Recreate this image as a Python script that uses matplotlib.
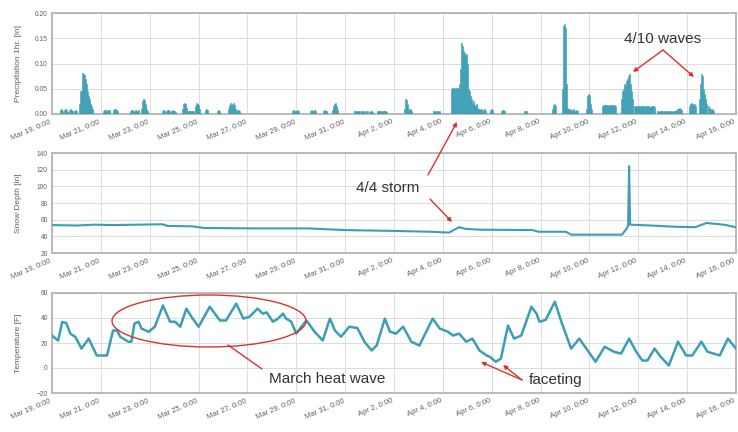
import matplotlib
matplotlib.use("Agg")
import matplotlib.pyplot as plt
from matplotlib.patches import Ellipse
from matplotlib.ticker import FuncFormatter, FormatStrFormatter
import matplotlib.dates as mdates
import pandas as pd

plt.rcParams['font.family'] = ['Liberation Sans', 'DejaVu Sans']

YEAR = 2014
t_start = pd.Timestamp(f"{YEAR}-03-19 00:00")
t_end = pd.Timestamp(f"{YEAR}-04-16 00:00")

# Hourly precipitation [in]: each run starts at the given time, one value per hour
precip_starts = [
    "03-19 08:00", "03-20 03:00", "03-21 02:00", "03-21 12:00", "03-22 05:00",
    "03-22 15:00", "03-23 12:00", "03-24 08:00", "03-24 20:00", "03-25 06:00",
    "03-25 18:00", "03-26 05:00", "03-28 20:00", "03-29 13:00", "03-30 02:00",
    "03-30 11:00", "03-31 09:00", "04-01 07:00", "04-02 10:00", "04-03 14:00",
    "04-04 08:00", "04-05 22:00", "04-06 09:00", "04-07 08:00", "04-08 11:00",
    "04-08 21:00", "04-09 21:00", "04-10 12:00", "04-11 07:00", "04-11 20:00",
    "04-12 18:00", "04-13 13:00", "04-14 02:00", "04-14 12:00",
]
precip_hourly = [
    [0.008, 0.01, 0.006, 0.0, 0.008, 0.01, 0.008, 0.004, 0.0, 0.008, 0.01, 0.008, 0.006, 0.0, 0.006, 0.008, 0.005],
    [0.02, 0.045, 0.082, 0.08, 0.078, 0.07, 0.06, 0.045, 0.035, 0.03, 0.02, 0.015, 0.01],
    [0.006, 0.008, 0.008, 0.004, 0.008, 0.006, 0.008],
    [0.008, 0.01, 0.01, 0.008, 0.006],
    [0.006, 0.008, 0.008, 0.004, 0.006, 0.008, 0.006, 0.008],
    [0.01, 0.025, 0.03, 0.028, 0.02, 0.01, 0.005],
    [0.005, 0.008, 0.006, 0.0, 0.005, 0.008, 0.008, 0.006, 0.0, 0.006, 0.008, 0.005, 0.006, 0.004],
    [0.01, 0.02, 0.022, 0.02, 0.012, 0.006, 0.006, 0.005, 0.006, 0.006, 0.005, 0.006],
    [0.015, 0.022, 0.02, 0.018, 0.01],
    [0.008, 0.01, 0.008],
    [0.006, 0.008, 0.006],
    [0.01, 0.018, 0.022, 0.015, 0.02, 0.022, 0.018, 0.01, 0.006, 0.008, 0.008, 0.006],
    [0.006, 0.008, 0.006, 0.005, 0.006, 0.008, 0.005],
    [0.006, 0.008, 0.006, 0.006, 0.008, 0.005],
    [0.006, 0.008, 0.006, 0.005],
    [0.008, 0.015, 0.02, 0.022, 0.015, 0.008],
    [0.005, 0.006, 0.005, 0.004, 0.006, 0.005, 0.0, 0.005, 0.006, 0.004, 0.005, 0.006, 0.005, 0.0, 0.004, 0.006, 0.005, 0.004],
    [0.005, 0.006, 0.005, 0.006, 0.004, 0.005, 0.006, 0.005, 0.006, 0.004],
    [0.01, 0.03, 0.028, 0.02, 0.01, 0.008, 0.01, 0.006],
    [0.005, 0.006, 0.004, 0.006, 0.005, 0.004, 0.006],
    [0.05, 0.052, 0.052, 0.05, 0.052, 0.052, 0.05, 0.052, 0.06, 0.09, 0.14, 0.135, 0.125, 0.12, 0.115, 0.118,
     0.1, 0.05, 0.045, 0.035, 0.03, 0.02, 0.025, 0.018, 0.015, 0.02, 0.012, 0.01, 0.008, 0.01, 0.006, 0.008, 0.01, 0.005],
    [0.008, 0.01, 0.008],
    [0.006, 0.008, 0.008, 0.006],
    [0.005, 0.006, 0.005],
    [0.01, 0.018, 0.02, 0.015],
    [0.05, 0.175, 0.178, 0.17, 0.06, 0.012, 0.01, 0.008, 0.01, 0.006, 0.008, 0.01, 0.006, 0.005, 0.008, 0.006],
    [0.01, 0.035, 0.04, 0.038, 0.02, 0.01],
    [0.016, 0.018, 0.018, 0.017, 0.018, 0.018, 0.016, 0.018, 0.018, 0.017, 0.018, 0.016, 0.018, 0.015],
    [0.03, 0.045, 0.05, 0.06, 0.055, 0.065, 0.07, 0.075, 0.08, 0.06, 0.045, 0.03],
    [0.015, 0.016, 0.014, 0.015, 0.016, 0.015, 0.014, 0.016, 0.015, 0.015, 0.014, 0.016, 0.015, 0.015, 0.016,
     0.014, 0.015, 0.016, 0.015, 0.014],
    [0.005, 0.006, 0.004, 0.005, 0.006, 0.005, 0.004, 0.006, 0.005, 0.005, 0.004, 0.006, 0.005, 0.005, 0.006,
     0.004, 0.005, 0.006, 0.005],
    [0.008, 0.01, 0.01, 0.012, 0.01, 0.008],
    [0.015, 0.02, 0.022, 0.02, 0.018, 0.02, 0.015],
    [0.03, 0.06, 0.08, 0.075, 0.05, 0.04, 0.03, 0.02, 0.015, 0.012, 0.01, 0.008, 0.01, 0.006],
]

# Snow depth [in]
snow_times = [
    "03-19 00:00", "03-20 00:00", "03-20 18:00", "03-21 12:00", "03-22 12:00",
    "03-23 12:00", "03-23 18:00", "03-24 18:00", "03-25 06:00", "03-27 12:00",
    "03-29 12:00", "03-31 00:00", "04-02 00:00", "04-03 12:00", "04-04 06:00",
    "04-04 16:00", "04-04 22:00", "04-05 12:00", "04-07 16:00", "04-07 22:00",
    "04-09 01:00", "04-09 06:00", "04-11 08:00", "04-11 13:00", "04-11 14:00",
    "04-11 15:00", "04-11 16:00", "04-12 12:00", "04-13 12:00", "04-14 08:00",
    "04-14 19:00", "04-15 12:00", "04-16 00:00",
]
snow_depth = [
    53.5, 53.0, 54.0, 53.5, 54.0,
    54.5, 52.5, 52.0, 50.0, 49.5,
    49.5, 47.5, 46.5, 45.5, 44.5,
    51.0, 49.0, 48.0, 47.5, 45.5,
    45.5, 42.0, 42.0, 50.0, 53.0,
    124.0, 54.0, 53.0, 51.5, 51.0,
    56.0, 54.0, 51.0,
]

# Air temperature [F]
temp_times = [
    "03-19 00:00", "03-19 06:00", "03-19 10:00", "03-19 14:00", "03-19 18:00", "03-19 23:00",
    "03-20 05:00", "03-20 12:00", "03-20 20:00", "03-21 06:00", "03-21 12:00", "03-21 16:00",
    "03-21 19:00", "03-22 03:00", "03-22 06:00", "03-22 09:00", "03-22 13:00", "03-22 16:00",
    "03-22 23:00", "03-23 05:00", "03-23 13:00", "03-23 20:00", "03-24 01:00", "03-24 06:00",
    "03-24 12:00", "03-24 17:00", "03-25 00:00", "03-25 11:00", "03-25 21:00", "03-26 03:00",
    "03-26 13:00", "03-26 20:00", "03-27 02:00", "03-27 10:00", "03-27 15:00", "03-27 19:00",
    "03-28 01:00", "03-28 06:00", "03-28 11:00", "03-28 14:00", "03-28 19:00", "03-29 00:00",
    "03-29 05:00", "03-29 10:00", "03-29 18:00", "03-30 02:00", "03-30 09:00", "03-30 14:00",
    "03-30 20:00", "03-31 04:00", "03-31 12:00", "03-31 19:00", "04-01 02:00", "04-01 07:00",
    "04-01 15:00", "04-01 20:00", "04-02 02:00", "04-02 09:00", "04-02 17:00", "04-03 01:00",
    "04-03 14:00", "04-03 21:00", "04-04 05:00", "04-04 10:00", "04-04 16:00", "04-04 23:00",
    "04-05 05:00", "04-05 12:00", "04-05 19:00", "04-05 22:00", "04-06 04:00", "04-06 09:00",
    "04-06 16:00", "04-06 22:00", "04-07 05:00", "04-07 15:00", "04-07 20:00", "04-07 23:00",
    "04-08 05:00", "04-08 14:00", "04-08 20:00", "04-09 06:00", "04-09 14:00", "04-09 21:00",
    "04-10 06:00", "04-10 15:00", "04-11 00:00", "04-11 07:00", "04-11 15:00", "04-11 22:00",
    "04-12 04:00", "04-12 09:00", "04-12 16:00", "04-12 22:00", "04-13 06:00", "04-13 15:00",
    "04-13 23:00", "04-14 05:00", "04-14 14:00", "04-14 20:00", "04-15 08:00", "04-15 16:00",
    "04-16 00:00",
]
temperature = [
    26, 22, 36.8, 36, 27.5, 24.8,
    15.5, 23.5, 10, 10, 30, 30,
    25, 21, 21, 35.5, 37, 31.5,
    29, 33, 50, 37, 37, 33,
    47.5, 41, 33, 49, 38, 38,
    51.5, 39.5, 41, 47.5, 43.5, 44.5,
    37, 39.5, 43.5, 39.5, 37, 27.5,
    33, 38, 29, 22, 39.5, 30,
    25, 33, 32, 21, 14, 18,
    39.5, 29, 27.5, 33, 21, 18,
    39.5, 31.5, 29, 26, 27.5, 21,
    23.5, 14, 10, 9, 5, 7.5,
    34, 23.5, 26, 49, 43.5, 37,
    38.5, 53, 38, 15.5, 23.5, 15.5,
    5, 17, 13, 11.5, 23.5, 13,
    6, 6, 15.5, 9, 2, 21,
    10, 10, 21, 13, 10, 23.5,
    15.5,
]

TEAL = '#3a9fb4'
GRID = '#dcdcdc'
SPINE = '#b4b4b4'
LABEL = '#606060'
RED = '#d8342c'


def stamp(s):
    return pd.Timestamp(f"{YEAR}-{s}")


bar_t, bar_v = [], []
for s, vals in zip(precip_starts, precip_hourly):
    t0 = stamp(s)
    for k, v in enumerate(vals):
        bar_t.append(t0 + pd.Timedelta(hours=k))
        bar_v.append(v)

snow_t = [stamp(s) for s in snow_times]
temp_t = [stamp(s) for s in temp_times]

W, H = 738, 432
fig = plt.figure(figsize=(W / 100, H / 100), dpi=100)
fig.patch.set_facecolor('white')


def frac_box(left, top, right, bottom):
    return [left / W, 1 - bottom / H, (right - left) / W, (bottom - top) / H]


ax1 = fig.add_axes(frac_box(52, 13, 736, 114))
ax2 = fig.add_axes(frac_box(52, 153, 736, 253))
ax3 = fig.add_axes(frac_box(52, 293, 736, 393))

ax1.bar(bar_t, bar_v, width=1 / 24, align='edge', color=TEAL, edgecolor=TEAL, linewidth=0.4, zorder=3)
ax2.plot(snow_t, snow_depth, color=TEAL, lw=1.5, zorder=3)
ax3.plot(temp_t, temperature, color=TEAL, lw=1.8, zorder=3)

ax1.set_ylim(0, 0.20)
ax1.set_yticks([0, 0.05, 0.10, 0.15, 0.20])
ax1.yaxis.set_major_formatter(FormatStrFormatter('%.2f'))
ax2.set_ylim(20, 140)
ax2.set_yticks(range(20, 141, 20))
ax3.set_ylim(-20, 60)
ax3.set_yticks(range(-20, 61, 20))

ax1.set_ylabel('Precipitation 1hr. [in]')
ax2.set_ylabel('Snow Depth [in]')
ax3.set_ylabel('Temperature [F]')

ticks = pd.date_range(t_start, t_end, freq='2D')


def date_label(x, pos):
    d = mdates.num2date(x)
    return f"{d:%b} {d.day}, {d.hour}:{d:%M}"


for ax in (ax1, ax2, ax3):
    ax.set_xlim(t_start, t_end)
    ax.set_xticks(ticks)
    ax.xaxis.set_major_formatter(FuncFormatter(date_label))
    ax.grid(True, color=GRID, lw=0.7, zorder=0)
    ax.set_axisbelow(True)
    for sp in ax.spines.values():
        sp.set_color(SPINE)
        sp.set_linewidth(1.3)
    ax.tick_params(length=0, pad=3, labelcolor=LABEL)
    ax.tick_params(axis='x', labelsize=5.5)
    ax.tick_params(axis='y', labelsize=4.8)
    for lab in ax.get_xticklabels():
        lab.set_rotation(23)
        lab.set_ha('right')
    ax.yaxis.label.set_size(6)
    ax.yaxis.label.set_color(LABEL)
    ax.yaxis.set_label_coords(-0.044, 0.5)

# Overlay in pixel units for the hand-placed notes
ov = fig.add_axes([0, 0, 1, 1])
ov.set_xlim(0, W)
ov.set_ylim(H, 0)
ov.axis('off')
ov.patch.set_alpha(0)

arrow = dict(arrowstyle='-|>', color=RED, lw=1.0, mutation_scale=6, shrinkA=0, shrinkB=0)
line = dict(arrowstyle='-', color=RED, lw=1.0, shrinkA=0, shrinkB=0)
txt = dict(color='#333333', ha='center', va='center')

ov.text(663, 39, '4/10 waves', fontsize=11, **txt)
ov.annotate('', xy=(633, 72), xytext=(663, 50), arrowprops=arrow)
ov.annotate('', xy=(694, 77), xytext=(663, 50), arrowprops=arrow)

ov.text(388, 188, '4/4 storm', fontsize=11, **txt)
ov.annotate('', xy=(457, 122), xytext=(428, 175), arrowprops=arrow)
ov.annotate('', xy=(452, 222), xytext=(430, 199), arrowprops=arrow)

ov.add_patch(Ellipse((209, 321), 194, 52, fill=False, edgecolor=RED, lw=1.0))
ov.text(327, 379, 'March heat wave', fontsize=11, **txt)
ov.annotate('', xy=(228, 345), xytext=(262, 369), arrowprops=line)

ov.text(556, 380, 'faceting', fontsize=11, **txt)
ov.annotate('', xy=(481, 362), xytext=(522, 380), arrowprops=arrow)
ov.annotate('', xy=(503, 365), xytext=(522, 380), arrowprops=arrow)

fig.savefig('out.png', dpi=100, facecolor='white')
